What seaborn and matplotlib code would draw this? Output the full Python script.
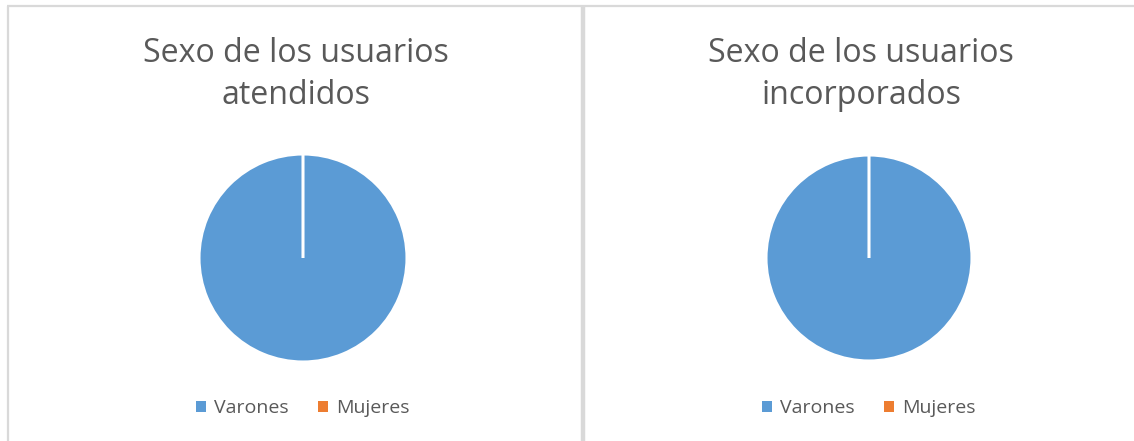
from matplotlib import pyplot as plt
from matplotlib.lines import Line2D
from matplotlib.patches import Patch
import seaborn as sns

# Data
categorias = ["Varones", "Mujeres"]
atendidos = [100, 0]
incorporados = [100, 0]
titulos = ["Sexo de los usuarios\natendidos", "Sexo de los usuarios\nincorporados"]
colores = ["#5B9BD5", "#ED7D31"]

W, H = 1134, 441
TEXT_COLOR = "#595959"
BORDER_COLOR = "#D9D9D9"

sns.set_theme(style="white")
plt.rcParams["font.family"] = ["Open Sans", "DejaVu Sans"]
palette = sns.color_palette(colores)

fig = plt.figure(figsize=(W / 100, H / 100), dpi=100)
fig.patch.set_facecolor("white")


def px_box(cx, cy, r):
    """Square axes box (figure coords) for a pie centred at pixel (cx, cy) from top-left."""
    return [(cx - r) / W, (H - cy - r) / H, 2 * r / W, 2 * r / H]


panels = [
    # (values, title, pie centre x, pie centre y, radius, panel centre x)
    (atendidos, titulos[0], 303, 258, 104, 296),
    (incorporados, titulos[1], 869, 258, 103, 861),
]

for (values, title, cx, cy, r, tx) in panels:
    ax = fig.add_axes(px_box(cx, cy, r))
    ax.pie(
        values,
        colors=palette,
        startangle=90,
        counterclock=False,
        wedgeprops={"edgecolor": "white", "linewidth": 2.2},
    )
    ax.set_xlim(-1.0, 1.0)
    ax.set_ylim(-1.0, 1.0)
    ax.set_axis_off()

    fig.text(tx / W, 1 - 37 / H, title, ha="center", va="top",
             fontsize=23.1, color=TEXT_COLOR, fontweight="normal", linespacing=1.36)

    handles = [Patch(facecolor=c, edgecolor="none") for c in palette]
    fig.legend(handles, categorias, loc="center", ncol=2, frameon=False,
               bbox_to_anchor=(cx / W, 1 - 408 / H), fontsize=14,
               labelcolor=TEXT_COLOR, handlelength=0.5, handleheight=0.5,
               handletextpad=0.45, columnspacing=1.5)

# Chart-area borders
border = dict(color=BORDER_COLOR, linewidth=1.6, solid_capstyle="butt")
fig.add_artist(Line2D([7 / W, 1.0], [1 - 6 / H, 1 - 6 / H], transform=fig.transFigure, **border))
fig.add_artist(Line2D([7.5 / W, 7.5 / W], [0, 1 - 6 / H], transform=fig.transFigure, **border))
fig.add_artist(Line2D([583 / W, 583 / W], [0, 1 - 6 / H], transform=fig.transFigure,
                      color=BORDER_COLOR, linewidth=3.2, solid_capstyle="butt"))

fig.savefig("out.png", dpi=100, facecolor="white")
